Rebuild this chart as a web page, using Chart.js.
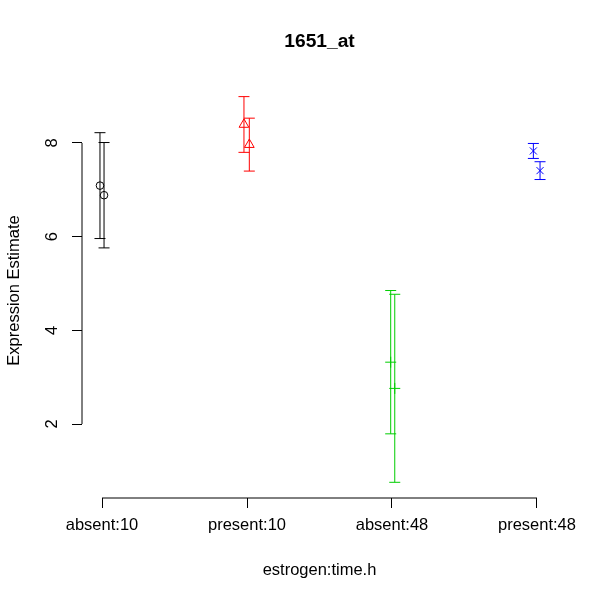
<!DOCTYPE html>
<html>
<head>
<meta charset="utf-8">
<script src="https://cdn.jsdelivr.net/npm/chart.js@4"></script>
<style>
  html, body { margin: 0; padding: 0; background: #fff; }
  #wrap { width: 600px; height: 600px; }
</style>
</head>
<body>
<div id="wrap"><canvas id="exprChart" width="600" height="600"></canvas></div>
<script>
// group labels on the x axis
const groups = ['absent:10', 'present:10', 'absent:48', 'present:48'];
const groupTicks = [1, 2, 3, 4];
const yTicks = [2, 4, 6, 8];

// two replicates per group, x is jittered like in the R plot
const groupOf = [0, 0, 1, 1, 2, 2, 3, 3];
const xJit = [0.986, 1.014, 1.979, 2.016, 2.991, 3.019, 3.975, 4.021];
const means = [7.09, 6.885, 8.395, 7.965, 3.32, 2.76, 7.83, 7.41];
const lower = [5.96, 5.76, 7.80, 7.40, 1.79, 0.755, 7.67, 7.22];
const upper = [8.22, 8.01, 8.99, 8.53, 4.85, 4.77, 7.99, 7.60];

const colors = ['#000000', '#ff0000', '#00cd00', '#0000ff'];
const markers = ['circle', 'triangle', 'cross', 'crossRot'];
const markerSize = [3.8, 5.6, 5.5, 5];

Chart.defaults.font.family = '"Liberation Sans", Arial, Helvetica, sans-serif';
Chart.defaults.font.size = 16.5;
Chart.defaults.color = '#000';

const datasets = [];

// error bars: a two point line, caps drawn as 'line' points
for (let i = 0; i < means.length; i++) {
    const g = groupOf[i];
    datasets.push({
        type: 'line',
        data: [{x: xJit[i], y: lower[i]}, {x: xJit[i], y: upper[i]}],
        borderColor: colors[g],
        borderWidth: 1,
        showLine: true,
        pointStyle: 'line',
        pointRadius: 5.5,
        pointBorderWidth: 1,
        pointBorderColor: colors[g],
        fill: false
    });
}

// the mean markers
for (let i = 0; i < means.length; i++) {
    const g = groupOf[i];
    datasets.push({
        type: 'scatter',
        data: [{x: xJit[i], y: means[i]}],
        pointStyle: markers[g],
        pointRadius: markerSize[g],
        pointBorderColor: colors[g],
        pointBackgroundColor: 'rgba(0,0,0,0)',
        pointBorderWidth: 1
    });
}

// R style axes only span from the first to the last tick
const axisLines = {
    id: 'axisLines',
    afterDraw(chart) {
        const {ctx, scales: {x, y}, chartArea} = chart;
        ctx.save();
        ctx.strokeStyle = '#000';
        ctx.lineWidth = 1;
        ctx.beginPath();
        ctx.moveTo(chartArea.left, y.getPixelForValue(yTicks[0]));
        ctx.lineTo(chartArea.left, y.getPixelForValue(yTicks[yTicks.length - 1]));
        ctx.moveTo(x.getPixelForValue(groupTicks[0]), chartArea.bottom);
        ctx.lineTo(x.getPixelForValue(groupTicks[groupTicks.length - 1]), chartArea.bottom);
        ctx.stroke();
        ctx.restore();
    }
};

new Chart(document.getElementById('exprChart').getContext('2d'), {
    type: 'scatter',
    data: { datasets: datasets },
    plugins: [axisLines],
    options: {
        responsive: false,
        animation: false,
        events: [],
        layout: { padding: { left: 0, right: 43, top: 0, bottom: 0 } },
        plugins: {
            legend: { display: false },
            tooltip: { enabled: false },
            title: {
                display: true,
                text: '1651_at',
                fullSize: false,
                color: '#000',
                font: { size: 19.2, weight: 'bold' },
                padding: { top: 30.5, bottom: 29.5 }
            }
        },
        scales: {
            x: {
                type: 'linear',
                min: 0.862,
                max: 4.138,
                afterBuildTicks: (s) => { s.ticks = groupTicks.map(v => ({value: v})); },
                afterFit: (s) => { s.height = 102; },
                ticks: {
                    autoSkip: false,
                    maxRotation: 0,
                    padding: 8,
                    callback: (v, i) => groups[i]
                },
                grid: { drawOnChartArea: false, drawTicks: true, tickLength: 10, color: '#000', lineWidth: 1 },
                border: { display: false },
                title: {
                    display: true,
                    text: 'estrogen:time.h',
                    padding: { top: 0, bottom: 20 }
                }
            },
            y: {
                type: 'linear',
                min: 0.42,
                max: 9.28,
                afterBuildTicks: (s) => { s.ticks = yTicks.map(v => ({value: v})); },
                afterFit: (s) => { s.width = 82; },
                ticks: {
                    autoSkip: false,
                    minRotation: 90,
                    maxRotation: 90,
                    crossAlign: 'center',
                    padding: 14.5
                },
                grid: { drawOnChartArea: false, drawTicks: true, tickLength: 10, color: '#000', lineWidth: 1 },
                border: { display: false },
                title: {
                    display: true,
                    text: 'Expression Estimate',
                    padding: { top: 4.2, bottom: 0 }
                }
            }
        }
    }
});
</script>
</body>
</html>
